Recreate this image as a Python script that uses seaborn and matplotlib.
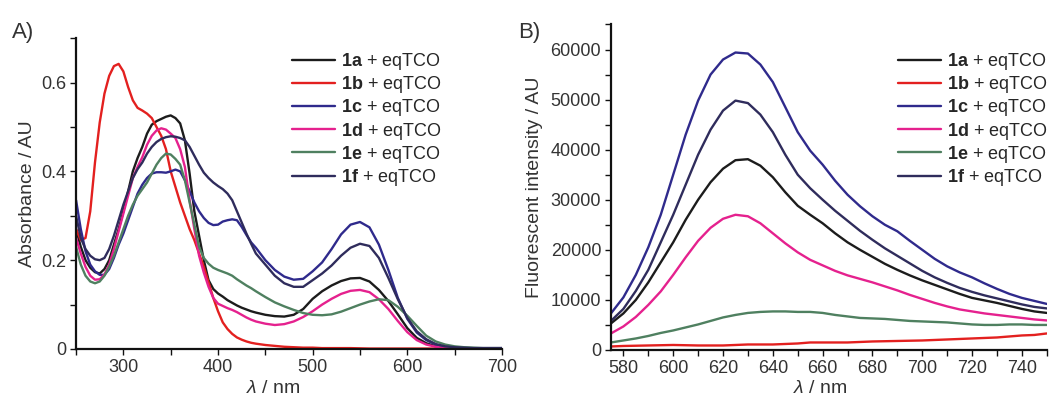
import numpy as np
import pandas as pd
import matplotlib
matplotlib.use("Agg")
import matplotlib.pyplot as plt
import seaborn as sns
from matplotlib.ticker import MultipleLocator, FuncFormatter

# ---- A) absorbance spectra ----
abs_wl = [250, 255, 260, 265, 270, 275, 280, 285, 290, 295, 300, 305, 310, 315, 320,
          325, 330, 335, 340, 345, 350, 355, 360, 365, 370, 375, 380, 385, 390, 395,
          400, 405, 410, 415, 420, 425, 430, 435, 440, 450, 460, 470, 480, 490, 500,
          510, 520, 530, 540, 550, 560, 570, 580, 590, 600, 610, 620, 630, 640, 650,
          660, 670, 680, 690, 700]
abs_1a = [0.27, 0.23, 0.20, 0.183, 0.173, 0.17, 0.18, 0.20, 0.235, 0.27, 0.31, 0.355, 0.40, 0.43, 0.455,
          0.485, 0.505, 0.513, 0.518, 0.523, 0.526, 0.52, 0.508, 0.47, 0.395, 0.31, 0.255, 0.20, 0.155, 0.135,
          0.125, 0.118, 0.11, 0.104, 0.098, 0.093, 0.089, 0.085, 0.082, 0.077, 0.074, 0.073, 0.077, 0.09, 0.113,
          0.13, 0.143, 0.153, 0.159, 0.160, 0.152, 0.133, 0.108, 0.078, 0.047, 0.025, 0.013, 0.006, 0.003, 0.001,
          0.001, 0.001, 0.001, 0.001, 0.001]
abs_1b = [0.27, 0.245, 0.25, 0.31, 0.42, 0.51, 0.575, 0.615, 0.637, 0.642, 0.625, 0.59, 0.56, 0.543, 0.537,
          0.53, 0.52, 0.50, 0.48, 0.45, 0.40, 0.365, 0.33, 0.30, 0.27, 0.245, 0.215, 0.185, 0.15, 0.115,
          0.085, 0.06, 0.045, 0.034, 0.026, 0.021, 0.017, 0.014, 0.012, 0.009, 0.007, 0.005, 0.004, 0.003, 0.003,
          0.002, 0.002, 0.002, 0.002, 0.0015, 0.001, 0.001, 0.001, 0.001, 0.001, 0.001, 0.001, 0.001, 0.001, 0.001,
          0.001, 0.001, 0.001, 0.001, 0.001]
abs_1c = [0.335, 0.27, 0.22, 0.19, 0.175, 0.167, 0.167, 0.18, 0.205, 0.235, 0.26, 0.29, 0.32, 0.35, 0.37,
          0.385, 0.395, 0.398, 0.398, 0.397, 0.40, 0.404, 0.40, 0.38, 0.355, 0.33, 0.31, 0.295, 0.284, 0.279,
          0.28, 0.287, 0.29, 0.292, 0.29, 0.275, 0.257, 0.24, 0.228, 0.20, 0.178, 0.163, 0.156, 0.158, 0.175,
          0.195, 0.225, 0.258, 0.28, 0.286, 0.274, 0.235, 0.178, 0.115, 0.068, 0.037, 0.02, 0.01, 0.005, 0.003,
          0.002, 0.002, 0.002, 0.002, 0.002]
abs_1d = [0.25, 0.215, 0.185, 0.165, 0.156, 0.157, 0.168, 0.19, 0.225, 0.265, 0.305, 0.345, 0.385, 0.41, 0.432,
          0.46, 0.48, 0.492, 0.497, 0.494, 0.485, 0.475, 0.45, 0.41, 0.335, 0.27, 0.21, 0.172, 0.14, 0.115,
          0.102, 0.097, 0.092, 0.088, 0.083, 0.077, 0.071, 0.066, 0.062, 0.057, 0.054, 0.056, 0.062, 0.072, 0.085,
          0.10, 0.113, 0.124, 0.131, 0.133, 0.128, 0.112, 0.09, 0.063, 0.038, 0.02, 0.01, 0.005, 0.002, 0.001,
          0.001, 0.001, 0.001, 0.001, 0.001]
abs_1e = [0.23, 0.19, 0.165, 0.152, 0.148, 0.152, 0.165, 0.185, 0.21, 0.24, 0.27, 0.30, 0.325, 0.345, 0.36,
          0.375, 0.395, 0.415, 0.43, 0.44, 0.438, 0.428, 0.415, 0.38, 0.33, 0.28, 0.23, 0.205, 0.192, 0.183,
          0.178, 0.174, 0.17, 0.165, 0.157, 0.15, 0.143, 0.137, 0.13, 0.117, 0.105, 0.096, 0.088, 0.081, 0.077,
          0.076, 0.078, 0.084, 0.092, 0.10, 0.107, 0.112, 0.11, 0.095, 0.075, 0.052, 0.03, 0.017, 0.01, 0.006,
          0.004, 0.003, 0.002, 0.002, 0.002]
abs_1f = [0.30, 0.25, 0.225, 0.21, 0.202, 0.20, 0.205, 0.225, 0.255, 0.29, 0.325, 0.355, 0.385, 0.405, 0.42,
          0.44, 0.455, 0.466, 0.473, 0.477, 0.479, 0.478, 0.475, 0.47, 0.455, 0.435, 0.415, 0.397, 0.385, 0.375,
          0.367, 0.36, 0.35, 0.335, 0.31, 0.285, 0.26, 0.237, 0.215, 0.19, 0.165, 0.148, 0.14, 0.14, 0.155,
          0.17, 0.188, 0.21, 0.228, 0.237, 0.232, 0.205, 0.16, 0.112, 0.07, 0.04, 0.022, 0.011, 0.006, 0.004,
          0.003, 0.002, 0.002, 0.002, 0.002]

# ---- B) fluorescence spectra ----
fl_wl = [575, 580, 585, 590, 595, 600, 605, 610, 615, 620, 625, 630, 635, 640, 645, 650, 655, 660,
         665, 670, 675, 680, 685, 690, 695, 700, 705, 710, 715, 720, 725, 730, 735, 740, 745, 750]
fl_1a = [5300, 7300, 10000, 13500, 17500, 21500, 26000, 30000, 33500, 36200, 37900, 38100, 36800, 34500, 31500, 28800, 27000, 25300,
         23300, 21500, 20000, 18600, 17200, 16000, 14900, 13900, 13000, 12100, 11200, 10400, 9900, 9400, 8800, 8200, 7700, 7400]
fl_1b = [700, 800, 850, 900, 950, 1000, 950, 900, 900, 900, 1000, 1100, 1100, 1100, 1200, 1300, 1500, 1500,
         1500, 1500, 1600, 1700, 1750, 1800, 1850, 1900, 2000, 2100, 2200, 2300, 2400, 2500, 2700, 2900, 3000, 3300]
fl_1c = [7300, 10500, 15000, 20500, 27000, 35000, 43000, 49800, 55000, 58000, 59400, 59200, 57000, 53500, 48500, 43500, 39800, 37000,
         33800, 31000, 28700, 26700, 25000, 23700, 21800, 20000, 18200, 16700, 15500, 14500, 13300, 12200, 11200, 10400, 9800, 9200]
fl_1d = [3300, 4700, 6600, 9000, 11700, 15000, 18500, 21800, 24400, 26200, 27000, 26700, 25300, 23300, 21300, 19500, 18000, 16900,
         15800, 14900, 14200, 13500, 12700, 11900, 11000, 10200, 9400, 8700, 8100, 7700, 7300, 7000, 6700, 6400, 6100, 5900]
fl_1e = [1500, 1900, 2300, 2800, 3400, 3900, 4500, 5100, 5800, 6500, 7000, 7400, 7600, 7700, 7700, 7600, 7600, 7400,
         7000, 6700, 6400, 6300, 6200, 6000, 5800, 5700, 5600, 5500, 5300, 5100, 5000, 5000, 5100, 5100, 5000, 5000]
fl_1f = [5800, 8200, 11800, 16000, 21500, 27000, 33000, 39000, 44000, 47800, 49800, 49300, 47000, 43500, 39000, 35000, 32300, 30000,
         27800, 25800, 23800, 22000, 20300, 18800, 17300, 15800, 14500, 13400, 12400, 11600, 10900, 10300, 9700, 9100, 8600, 8300]

compounds = ["1a", "1b", "1c", "1d", "1e", "1f"]
colors = ["#1c1c1c", "#e3201f", "#2f2a8c", "#e5218e", "#4f8060", "#2f2c5c"]

sns.set_style("ticks")
plt.rcParams["font.family"] = ["Liberation Sans", "DejaVu Sans"]
plt.rcParams["mathtext.fontset"] = "custom"
plt.rcParams["mathtext.rm"] = "Liberation Sans"
plt.rcParams["mathtext.it"] = "Liberation Sans:italic"
plt.rcParams["mathtext.bf"] = "Liberation Sans:bold"

txt_col = "#333333"
W, H = 1049, 396


def to_long(wl, series, value_name):
    df = pd.DataFrame({"wl": wl})
    for name, vals in zip(compounds, series):
        df[name] = vals
    return df.melt(id_vars="wl", var_name="cmpd", value_name=value_name)


df_abs = to_long(abs_wl, [abs_1a, abs_1b, abs_1c, abs_1d, abs_1e, abs_1f], "A")
df_fl = to_long(fl_wl, [fl_1a, fl_1b, fl_1c, fl_1d, fl_1e, fl_1f], "I")

fig = plt.figure(figsize=(W / 100, H / 100), dpi=100)
ax1 = fig.add_axes([0.0725, 0.1187, 0.406, 0.785])
ax2 = fig.add_axes([0.5824, 0.1162, 0.4155, 0.822])

pal = dict(zip(compounds, colors))
sns.lineplot(data=df_abs, x="wl", y="A", hue="cmpd", hue_order=compounds,
             palette=pal, lw=1.7, ax=ax1, legend=False)
sns.lineplot(data=df_fl, x="wl", y="I", hue="cmpd", hue_order=compounds,
             palette=pal, lw=1.7, ax=ax2, legend=False)

labels = [rf"$\mathbf{{{c}}}$ + eqTCO" for c in compounds]
legend_x = {ax1: 292, ax2: 898}

for ax in (ax1, ax2):
    for s in ("top", "right"):
        ax.spines[s].set_visible(False)
    for s in ("left", "bottom"):
        ax.spines[s].set_linewidth(1.6)
        ax.spines[s].set_color("#111111")
    ax.tick_params(which="major", length=4, width=1, color="#111111",
                   labelsize=13, labelcolor=txt_col, pad=3)
    ax.tick_params(which="minor", length=4, width=1, color="#111111")
    handles = [plt.Line2D([], [], color=c, lw=1.7) for c in colors]
    ax.legend(handles, labels, loc="upper left", frameon=False, fontsize=13,
              handlelength=2.4, handletextpad=0.3, labelspacing=0.12,
              borderaxespad=0, borderpad=0,
              bbox_to_anchor=(legend_x[ax] / W, (H - 51) / H),
              bbox_transform=fig.transFigure)

ax1.set_xlim(250, 700)
ax1.set_ylim(0, 0.70)
ax1.xaxis.set_major_locator(MultipleLocator(100))
ax1.xaxis.set_minor_locator(MultipleLocator(50))
ax1.yaxis.set_major_locator(MultipleLocator(0.2))
ax1.yaxis.set_minor_locator(MultipleLocator(0.1))
ax1.yaxis.set_major_formatter(FuncFormatter(lambda v, p: "0" if abs(v) < 1e-9 else f"{v:.1f}"))
ax1.set_xticks([300, 400, 500, 600, 700])
ax1.set_xlabel(r"$\it{\lambda}$ / nm", fontsize=14, color=txt_col)
ax1.set_ylabel("Absorbance / AU", fontsize=14, color=txt_col)
ax1.xaxis.set_label_coords(0.462, -0.10)
ax1.yaxis.set_label_coords(-0.094, 0.5)

ax2.set_xlim(575, 750)
ax2.set_ylim(0, 65000)
ax2.xaxis.set_major_locator(MultipleLocator(20))
ax2.xaxis.set_minor_locator(MultipleLocator(10))
ax2.set_xticks([580, 600, 620, 640, 660, 680, 700, 720, 740])
ax2.yaxis.set_major_locator(MultipleLocator(10000))
ax2.yaxis.set_minor_locator(MultipleLocator(5000))
ax2.yaxis.set_major_formatter(FuncFormatter(lambda v, p: f"{int(v)}"))
ax2.set_xlabel(r"$\it{\lambda}$ / nm", fontsize=14, color=txt_col)
ax2.set_ylabel("Fluorescent intensity / AU", fontsize=14, color=txt_col)
ax2.xaxis.set_label_coords(0.48, -0.092)
ax2.yaxis.set_label_coords(-0.156, 0.5)

fig.text(12 / W, (H - 38) / H, "A)", fontsize=16, color=txt_col)
fig.text(518 / W, (H - 38) / H, "B)", fontsize=16, color=txt_col)

fig.savefig("out.png", dpi=100)
